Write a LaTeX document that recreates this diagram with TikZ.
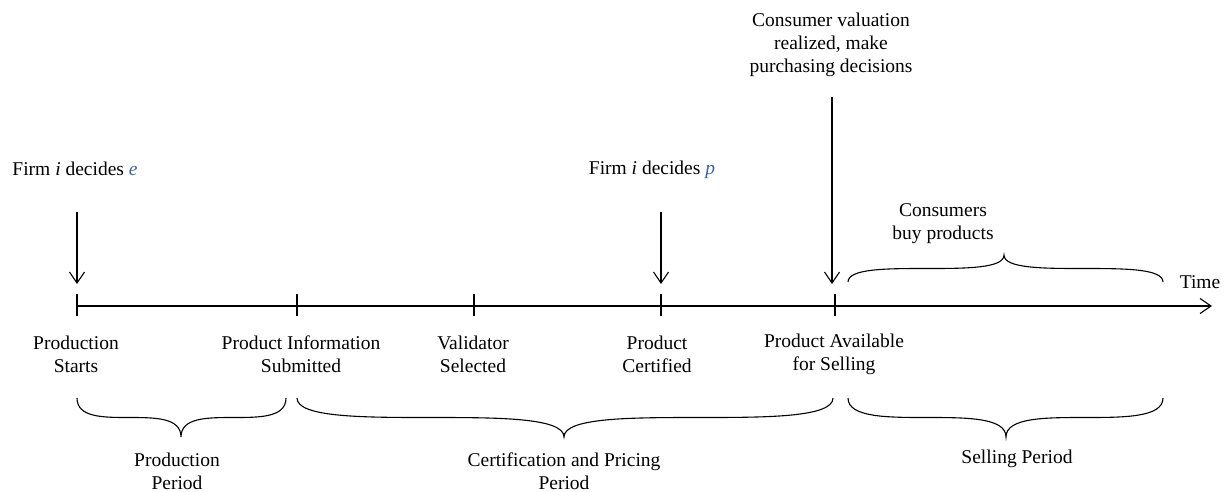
\documentclass[tikz,border=0pt]{standalone}
\usepackage{fontspec}
\setmainfont{Liberation Serif}
\usetikzlibrary{arrows.meta}
\definecolor{varblue}{RGB}{62,98,160}
\newcommand\mybrace[5]{% x1, x2, xm, yend, ytip
  \draw[bracestyle] (#1,#4) .. controls (#1,#5) and (#3,#4) .. (#3,#5)
                          .. controls (#3,#4) and (#2,#5) .. (#2,#4);}
\begin{document}
\begin{tikzpicture}[x=1pt,y=-1pt,
  every node/.style={font=\fontsize{19.5}{23}\selectfont, inner sep=0pt, align=center},
  line/.style={line width=1.1pt, black},
  arr/.style={line width=1.1pt, -{Straight Barb[length=11pt,width=15pt,line width=1.1pt]}},
  tick/.style={line width=1.1pt},
  bracestyle/.style={line width=1.1pt}]
\useasboundingbox (0,0) rectangle (1230,491);

% axis
\coordinate (a0) at (77,306);
\coordinate (aend) at (1212,306);
\draw[arr] (a0) -- (aend);
\node (time) at (1200,282) {Time};

% ticks
\foreach \n/\x in {t1/77,t2/297,t3/474,t4/661,t5/835}{
  \coordinate (\n) at (\x,306);
  \draw[tick] (\x,294) -- (\x,316);
}

% arrows from above
\coordinate (e0) at (77,212);  \coordinate (e1) at (77,284);
\coordinate (p0) at (661,212); \coordinate (p1) at (661,284);
\coordinate (c0) at (832,97);  \coordinate (c1) at (832,284);
\draw[arr] (e0) -- (e1);
\draw[arr] (p0) -- (p1);
\draw[arr] (c0) -- (c1);

% top labels
\node (firme) at (75,169) {Firm \textit{i} decides \textcolor{varblue}{\textit{e}}};
\node (firmp) at (652,170) {Firm \textit{i} decides \textcolor{varblue}{\textit{p}}};
\node (cons) at (831,45) {Consumer valuation\\realized, make\\purchasing decisions};
\node (buy) at (943,224) {Consumers\\buy products};

% event labels
\node (ps) at (76,354) {Production\\Starts};
\node (pis) at (301,354) {Product Information\\Submitted};
\node (vs) at (473,354) {Validator\\Selected};
\node (pc) at (657,354) {Product\\Certified};
\node (pa) at (834,354) {Product Available\\for Selling};

% period labels
\node (pp) at (177,471) {Production\\Period};
\node (cp) at (564,471) {Certification and Pricing\\Period};
\node (sp) at (1017,459) {Selling Period};

% braces
\mybrace{77}{286}{181}{398}{437}
\mybrace{297}{833}{564}{398}{437}
\mybrace{848}{1163}{1006}{398}{437}
\mybrace{848}{1163}{1004}{282}{255}
\end{tikzpicture}
\end{document}
